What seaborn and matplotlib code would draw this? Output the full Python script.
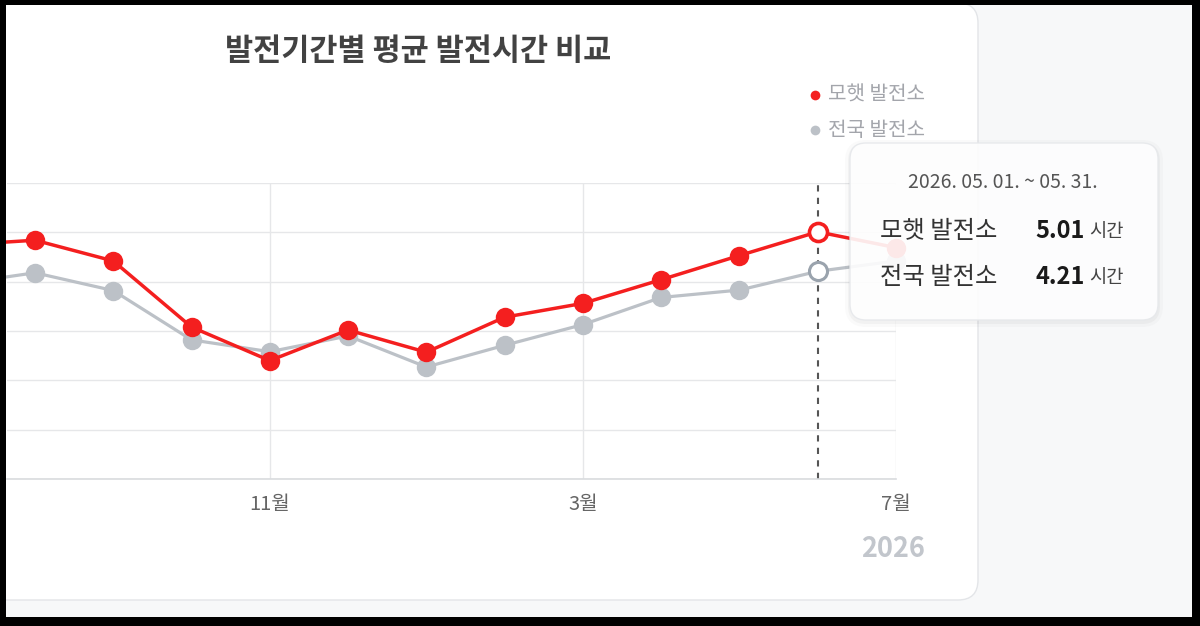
import matplotlib
matplotlib.use("Agg")

import numpy as np
import pandas as pd
import matplotlib.pyplot as plt
import seaborn as sns
from matplotlib.patches import FancyBboxPatch, Rectangle

# =============================================================================
# Data (monthly average generation hours)
# =============================================================================

PERIODS = [
    "2025.06", "2025.07", "2025.08", "2025.09", "2025.10", "2025.11",
    "2025.12", "2026.01", "2026.02", "2026.03", "2026.04", "2026.05",
    "2026.06",
]

MOHAET_HOURS = [4.74, 4.84, 4.42, 3.08, 2.40, 3.02, 2.57, 3.28, 3.56, 4.04, 4.53, 5.01, 4.69]

NATIONAL_HOURS = [3.95, 4.18, 3.82, 2.82, 2.58, 2.90, 2.27, 2.71, 3.13, 3.68, 3.83, 4.21, 4.42]

SERIES_NAMES = ["모햇 발전소", "전국 발전소"]

TICK_POSITIONS = [4, 8, 12]
TICK_LABELS = ["11월", "3월", "7월"]

HOVER_INDEX = 11
HOVER_RANGE = "2026. 05. 01. ~ 05. 31."
YEAR_LABEL = "2026"

RED = "#f41f1f"
GRAY = "#bcc1c7"
GRAY_HOVER = "#9aa3ad"

# =============================================================================
# Style
# =============================================================================

sns.set_style("white")
plt.rcParams["font.family"] = ["Noto Sans CJK KR", "DejaVu Sans"]

W, H = 1200, 626

fig = plt.figure(figsize=(W / 100, H / 100), dpi=100)
fig.patch.set_facecolor("black")

# -----------------------------------------------------------------------------
# Background layer (pixel coordinates)
# -----------------------------------------------------------------------------

ax_bg = fig.add_axes([0, 0, 1, 1], zorder=0)
ax_bg.set_xlim(0, W)
ax_bg.set_ylim(H, 0)
ax_bg.axis("off")

ax_bg.add_patch(Rectangle((6, 5), 1186, 612, facecolor="#f7f8f9", edgecolor="none"))
ax_bg.add_patch(FancyBboxPatch(
    (-40, 3), 1018, 597,
    boxstyle="round,pad=0,rounding_size=20",
    facecolor="white", edgecolor="#e3e5e8", linewidth=1,
))

# -----------------------------------------------------------------------------
# Line chart
# -----------------------------------------------------------------------------

df = pd.DataFrame({
    "idx": np.arange(len(PERIODS)),
    "period": PERIODS,
    SERIES_NAMES[0]: MOHAET_HOURS,
    SERIES_NAMES[1]: NATIONAL_HOURS,
})

left_px, right_px = 7, 896
top_px, bottom_px = 183, 479

ax = fig.add_axes([
    left_px / W,
    (H - bottom_px) / H,
    (right_px - left_px) / W,
    (bottom_px - top_px) / H,
], zorder=1)
ax.set_facecolor("none")

sns.lineplot(
    data=df, x="idx", y=SERIES_NAMES[1], ax=ax,
    color=GRAY, linewidth=2.3, marker="o", markersize=14,
    markeredgewidth=0, clip_on=False,
)
sns.lineplot(
    data=df, x="idx", y=SERIES_NAMES[0], ax=ax,
    color=RED, linewidth=2.5, marker="o", markersize=14,
    markeredgewidth=0, clip_on=False,
)

ax.axvline(HOVER_INDEX, color="#555555", linestyle=(0, (3, 3)), linewidth=1.5, zorder=1)

ax.plot(
    HOVER_INDEX, NATIONAL_HOURS[HOVER_INDEX], marker="o", markersize=13,
    markerfacecolor="white", markeredgecolor=GRAY_HOVER, markeredgewidth=2.2,
    zorder=5, clip_on=False,
)
ax.plot(
    HOVER_INDEX, MOHAET_HOURS[HOVER_INDEX], marker="o", markersize=13,
    markerfacecolor="white", markeredgecolor=RED, markeredgewidth=2.6,
    zorder=6, clip_on=False,
)

x_start = (left_px + 43.3) / 78.27
ax.set_xlim(x_start, 12)
ax.set_ylim(0, 6)

ax.set_xticks(TICK_POSITIONS)
ax.set_xticklabels(TICK_LABELS, color="#666666", fontsize=14.5)
ax.set_yticks(range(0, 7))
ax.set_yticklabels([])
ax.tick_params(axis="both", length=0)
ax.tick_params(axis="x", pad=11)

ax.grid(True, color="#e6e7e9", linewidth=1)
ax.set_axisbelow(True)

for side in ["top", "left", "right"]:
    ax.spines[side].set_visible(False)
ax.spines["bottom"].set_color("#d9dbde")
ax.spines["bottom"].set_linewidth(1.2)

ax.set_xlabel("")
ax.set_ylabel("")

# -----------------------------------------------------------------------------
# Overlay layer: title, legend, tooltip, frame
# -----------------------------------------------------------------------------

ax_top = fig.add_axes([0, 0, 1, 1], zorder=3)
ax_top.set_xlim(0, W)
ax_top.set_ylim(H, 0)
ax_top.set_facecolor("none")
ax_top.axis("off")

ax_top.text(
    418, 51, "발전기간별 평균 발전시간 비교",
    ha="center", va="center", fontsize=22, fontweight="bold", color="#424242",
)

# legend
for y, color, name in [(95, RED, SERIES_NAMES[0]), (130, GRAY, SERIES_NAMES[1])]:
    ax_top.plot(815, y, marker="o", markersize=7, color=color, markeredgewidth=0)
    ax_top.text(828, y, name, ha="left", va="center", fontsize=14.5, color="#a3a5ab")

# year label under last tick
ax_top.text(
    893, 549, YEAR_LABEL,
    ha="center", va="center", fontsize=19.5, fontweight="bold", color="#c2c6cc",
)

# tooltip
for grow, alpha in [(5, 0.02), (2, 0.03)]:
    ax_top.add_patch(FancyBboxPatch(
        (850 - grow, 143 - grow + 2), 308 + 2 * grow, 177 + 2 * grow,
        boxstyle=f"round,pad=0,rounding_size={16 + grow}",
        facecolor="black", edgecolor="none", alpha=alpha,
    ))
ax_top.add_patch(FancyBboxPatch(
    (850, 143), 308, 177,
    boxstyle="round,pad=0,rounding_size=16",
    facecolor="white", edgecolor="#e6e8eb", linewidth=1, alpha=0.9,
))

ax_top.text(1003, 183, HOVER_RANGE, ha="center", va="center", fontsize=14, color="#555555")

rows = [
    (231, SERIES_NAMES[0], MOHAET_HOURS[HOVER_INDEX]),
    (277, SERIES_NAMES[1], NATIONAL_HOURS[HOVER_INDEX]),
]
for y, name, value in rows:
    ax_top.text(880, y, name, ha="left", va="center", fontsize=17.5, color="#333333")
    ax_top.text(1085, y, f"{value:.2f}", ha="right", va="center",
                fontsize=17, fontweight="bold", color="#1a1a1a")
    ax_top.text(1089, y + 1, "시간", ha="left", va="center", fontsize=13.5, color="#444444")

# black screenshot frame
for x, y, w, h in [(0, 0, 6, H), (0, 0, W, 5), (1192, 0, 8, H), (0, 617, W, 9)]:
    ax_top.add_patch(Rectangle((x, y), w, h, facecolor="black", edgecolor="none"))

fig.savefig("out.png", dpi=100, facecolor=fig.get_facecolor())
plt.close(fig)
